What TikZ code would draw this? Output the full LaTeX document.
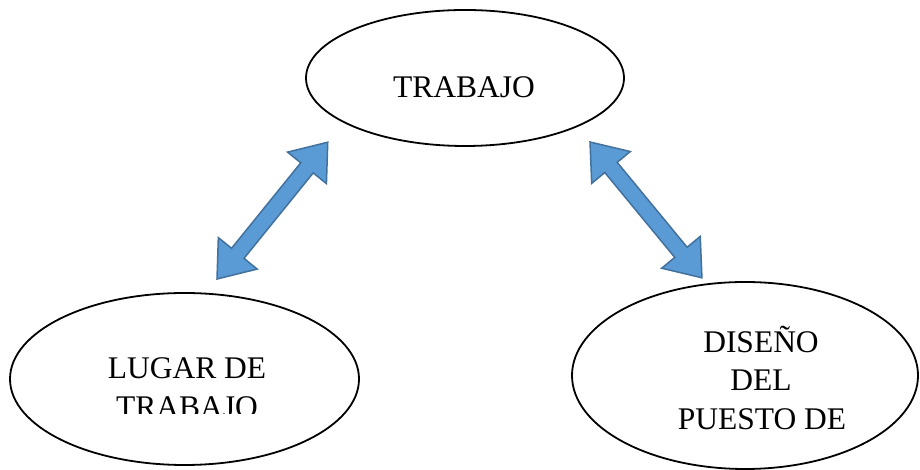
\documentclass[tikz,border=0pt]{standalone}
\usepackage{fontspec}
\setmainfont{Liberation Serif}
\usetikzlibrary{shapes.geometric}
\definecolor{arrfill}{HTML}{5B9BD5}
\definecolor{arrline}{HTML}{41719C}
\tikzset{
  oval/.style={ellipse, draw=black, line width=1.8pt, inner sep=0pt},
  lbl/.style={anchor=base, inner sep=0pt, font=\fontsize{31.5}{38.5}\selectfont},
  dblarrow/.style={fill=arrfill, draw=arrline, line width=1.5pt, line join=miter},
}
\newcommand{\dblarrowshape}[1]{%
  \draw[dblarrow] (0,0) -- (33,25) -- (33,8) -- ({#1-33},8) -- ({#1-33},25) -- (#1,0)
    -- ({#1-33},-25) -- ({#1-33},-8) -- (33,-8) -- (33,-25) -- cycle;}
\begin{document}
\begin{tikzpicture}[x=1pt,y=1pt]
\useasboundingbox (0,0) rectangle (920,470);
% ellipses
\node[oval, minimum width=318pt, minimum height=136pt] (trabajo) at (465,392) {};
\node[oval, minimum width=349pt, minimum height=172pt] (lugar) at (184.5,91) {};
\node[oval, minimum width=346pt, minimum height=187pt] (diseno) at (745,94.5) {};
% texts
\node[lbl] (t1) at (464,372) {TRABAJO};
\begin{scope}
  \clip (0,56) rectangle (920,470);
  \node[lbl] (l1) at (187,91) {LUGAR DE};
  \node[lbl] (l2) at (187,52.5) {TRABAJO};
\end{scope}
\node[lbl] (d1) at (761,117.3) {DISEÑO};
\node[lbl] (d2) at (761,79) {DEL};
\node[lbl] (d3) at (762,40.5) {PUESTO DE};
% arrows
\coordinate (la) at (217,191);
\coordinate (ra) at (590,328);
\begin{scope}[shift={(la)}, rotate=51.0]
  \dblarrowshape{176}
\end{scope}
\begin{scope}[shift={(ra)}, rotate=-50.5]
  \dblarrowshape{176}
\end{scope}
\end{tikzpicture}
\end{document}
